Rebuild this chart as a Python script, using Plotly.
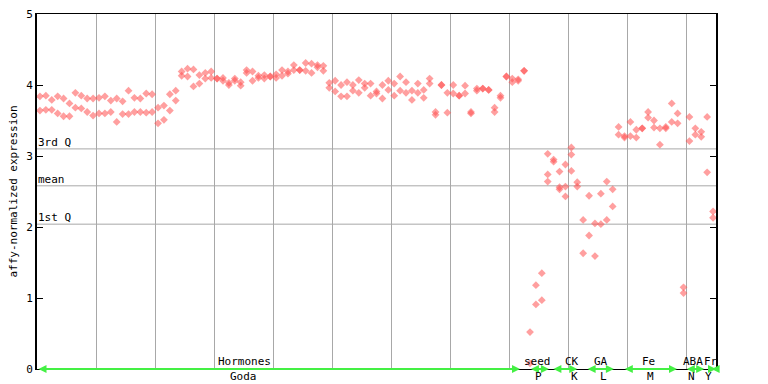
import numpy as np
import plotly.graph_objects as go

# replicate values per sample (sample index = position in list)
rep_a = [3.84, 3.85, 3.79, 3.84, 3.81, 3.74, 3.89, 3.85, 3.81, 3.81,
         3.82, 3.84, 3.78, 3.81, 3.77, 3.92, 3.82, 3.81, 3.88, 3.87,
         3.68, 3.71, 3.87, 3.92, 4.19, 4.23, 4.22, 4.14, 4.17, 4.19,
         4.09, 4.10, 4.03, 4.09, 4.04, 4.21, 4.19, 4.13, 4.14, 4.12,
         4.15, 4.21, 4.19, 4.28, 4.21, 4.31, 4.30, 4.28, 4.27, 4.03,
         4.06, 4.00, 4.04, 4.00, 4.07, 4.02, 4.02, 3.91, 4.00, 4.06,
         4.02, 4.12, 4.04, 3.92, 4.02, 3.93, 4.09, 3.62, 4.00, 3.89,
         4.00, 3.85, 3.99, 3.62, 3.95, 3.95, 3.93, 3.68, 3.85, 4.12,
         4.09, 4.08, 4.20, 0.52, 1.18, 1.35, 3.03, 2.95, 2.78, 2.88,
         3.12, 2.63, 2.10, 2.44, 2.05, 2.47, 2.64, 2.53, 3.41, 3.28,
         3.48, 3.37, 3.39, 3.62, 3.50, 3.39, 3.41, 3.74, 3.60, 1.15,
         3.55, 3.39, 3.34, 3.55, 2.22]
rep_b = [3.64, 3.65, 3.65, 3.60, 3.56, 3.56, 3.68, 3.67, 3.62, 3.57,
         3.60, 3.60, 3.62, 3.48, 3.59, 3.59, 3.62, 3.62, 3.61, 3.62,
         3.46, 3.51, 3.64, 3.78, 4.13, 4.12, 3.98, 4.02, 4.09, 4.10,
         4.09, 4.06, 4.00, 4.06, 3.99, 4.17, 4.06, 4.10, 4.09, 4.12,
         4.10, 4.13, 4.16, 4.21, 4.21, 4.20, 4.17, 4.25, 4.20, 3.96,
         3.91, 3.84, 3.84, 3.92, 3.89, 3.96, 3.85, 3.88, 3.81, 3.93,
         3.85, 3.92, 3.89, 3.79, 3.89, 3.82, 4.02, 3.58, 4.00, 3.61,
         3.88, 3.85, 3.88, 3.60, 3.92, 3.95, 3.93, 3.62, 3.82, 4.12,
         4.04, 4.06, 4.20, 0.08, 0.91, 0.97, 2.74, 2.92, 2.56, 2.57,
         3.02, 2.57, 1.63, 1.88, 1.59, 2.04, 2.10, 2.29, 3.30, 3.26,
         3.28, 3.26, 3.39, 3.54, 3.40, 3.16, 3.39, 3.48, 3.46, 1.07,
         3.21, 3.30, 3.27, 2.77, 2.13]
rep_c_index = [86, 88, 89, 90]
rep_c = [2.64, 2.53, 2.43, 2.79]

# summary lines
stat_names = ["3rd Q", "mean", "1st Q"]
stat_values = [3.10, 2.58, 2.04]

# sample groups: top label, bottom label, start, end (sample axis units)
group_top = ["Hormones", "seed", "CK", "GA", "Fe", "ABA", "Fr"]
group_bottom = ["Goda", "P", "K", "L", "M", "N", "Y"]
group_start = [0, 83.4, 87.2, 93.0, 99.3, 109.8, 114.0]
group_end = [81.8, 86.7, 91.5, 97.7, 108.4, 113.0, 115.0]
label_top_x = [35.2, 84.7, 90.6, 95.5, 103.5, 111.1, 114.1]
label_bottom_x = [34.9, 84.9, 91.1, 95.9, 103.9, 110.9, 113.8]

n = len(rep_a)
xs = np.arange(n) + 0.5
xs_c = np.array(rep_c_index) + 0.5

FONT = "DejaVu Sans Mono"
marker = dict(symbol="diamond", size=6, color="rgba(255,80,80,0.55)", line=dict(width=0))

fig = go.Figure()
fig.add_trace(go.Scatter(x=xs, y=rep_a, mode="markers", marker=marker, showlegend=False))
fig.add_trace(go.Scatter(x=xs, y=rep_b, mode="markers", marker=marker, showlegend=False))
fig.add_trace(go.Scatter(x=xs_c, y=rep_c, mode="markers", marker=marker, showlegend=False))

for name, v in zip(stat_names, stat_values):
    fig.add_shape(type="line", xref="paper", x0=0, x1=1, yref="y", y0=v, y1=v,
                  line=dict(color="#a8a8a8", width=1), layer="below")
    fig.add_annotation(x=0, xref="paper", y=v, yref="y", text=name, showarrow=False,
                       xanchor="left", yanchor="bottom", xshift=-1, yshift=-2,
                       font=dict(family=FONT, size=11, color="black"))

for s, e in zip(group_start, group_end):
    fig.add_annotation(x=e, y=0, xref="x", yref="y", ax=s, ay=0, axref="x", ayref="y",
                       text="", showarrow=True, arrowside="end+start", arrowhead=2,
                       arrowsize=0.8, arrowwidth=2, arrowcolor="#44f044")

for t, x in zip(group_top, label_top_x):
    fig.add_annotation(x=x, y=0, xref="x", yref="y", text=t, showarrow=False,
                       yanchor="bottom", yshift=-1,
                       font=dict(family=FONT, size=11, color="black"))
for t, x in zip(group_bottom, label_bottom_x):
    fig.add_annotation(x=x, y=0, xref="x", yref="y", text=t, showarrow=False,
                       yanchor="top", yshift=1,
                       font=dict(family=FONT, size=11, color="black"))

fig.update_layout(
    width=768, height=384,
    margin=dict(l=37, r=52, t=14, b=15, autoexpand=False),
    paper_bgcolor="white", plot_bgcolor="white",
    font=dict(family=FONT, size=11, color="black"),
    xaxis=dict(range=[0, 115], tick0=0, dtick=10, showgrid=True, gridcolor="#a8a8a8",
               gridwidth=1, showticklabels=False, ticks="", showline=True,
               linecolor="black", linewidth=1, mirror=True, zeroline=False,
               automargin=False),
    yaxis=dict(range=[0, 5], tick0=0, dtick=1, showgrid=False, ticks="inside",
               ticklen=6, tickcolor="black", showline=True, linecolor="black",
               linewidth=2, mirror="ticks", zeroline=False, automargin=False,
               title=dict(text="affy-normalized expression", standoff=6,
                          font=dict(family=FONT, size=11)),
               tickfont=dict(family=FONT, size=11)),
)

fig.write_html("out.html", config={"displayModeBar": False},
               post_script="document.body.style.margin='0';document.body.style.padding='0';")
